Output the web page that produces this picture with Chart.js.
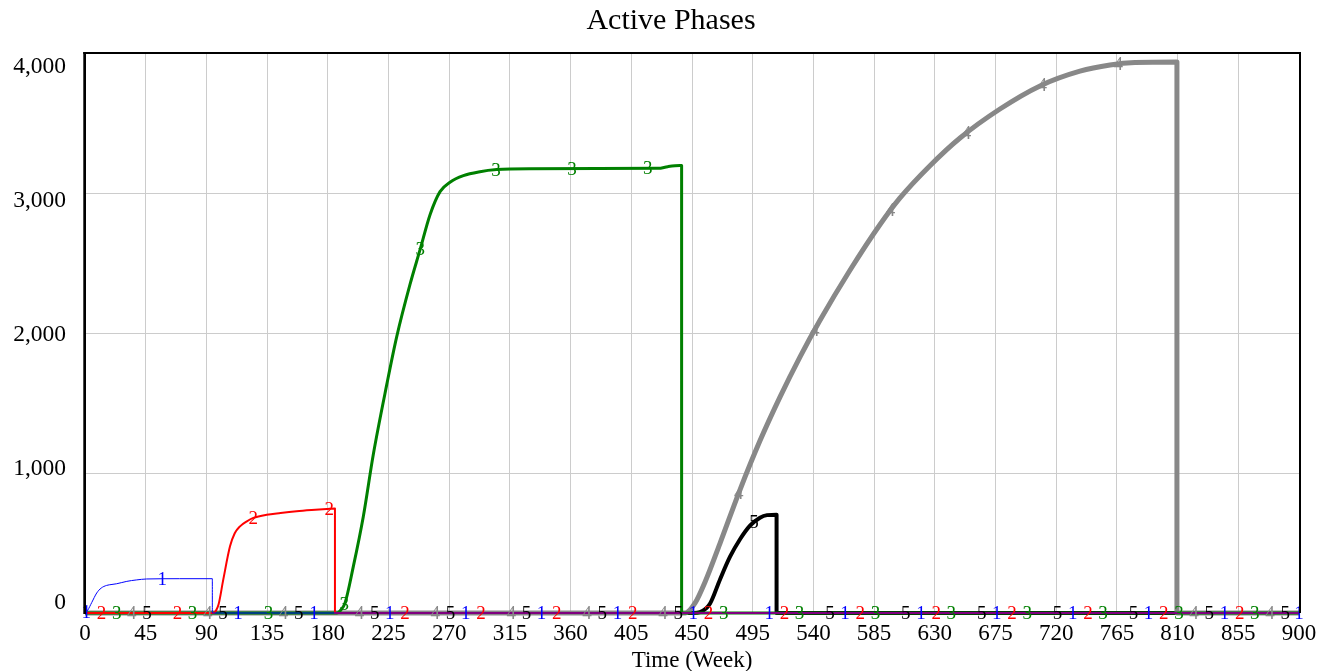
<!DOCTYPE html>
<html><head><meta charset="utf-8">
<script src="https://cdn.jsdelivr.net/npm/chart.js@4/dist/chart.umd.min.js"></script>
<style>html,body{margin:0;padding:0;background:#fff;overflow:hidden}canvas{display:block}</style>
</head><body>
<canvas id="c" width="1319" height="671"></canvas>
<script>
const chartTitle = "Active Phases";
const xAxisTitle = "Time (Week)";
const yTickValues = [0, 1000, 2000, 3000, 4000];
const yTickLabels = ["0", "1,000", "2,000", "3,000", "4,000"];
const seriesNames = ["1", "2", "3", "4", "5"];
const seriesColors = ["#0000ff", "#ff0000", "#008000", "#888888", "#000000"];
const seriesWidths = [1, 2, 3, 5, 4];

const weeks1  = [0, 2, 5, 8.7, 12, 16, 20, 23.5, 31, 38, 45.7, 70, 94.4, 94.4, 900];
const values1 = [0, 20, 75, 143, 178, 197, 204, 209, 226, 236, 243, 245, 245, 0, 0];

const weeks2  = [0, 95, 97, 99, 102.5, 107.5, 111, 114.9, 120, 124.8, 134.7, 145, 156.9, 168, 179.2, 185.3, 185.3, 900];
const values2 = [0, 0, 15, 60, 238, 476, 570, 619, 655, 679, 702, 714, 726, 735, 743, 747, 0, 0];

const weeks3  = [0, 186.8, 189.5, 192.7, 198.9, 206.3, 213.7, 223.7, 231.1, 240.9, 248.4, 255.8, 263.2, 270.6, 280.5, 292.8, 305.2, 330, 380, 425, 432, 441, 442.3, 442.3, 900];
const values3 = [0, 0, 20, 69, 331, 688, 1131, 1631, 1974, 2345, 2595, 2845, 3010, 3077, 3124, 3152, 3167, 3174, 3175, 3176, 3188, 3196, 3196, 0, 0];

const weeks4  = [0, 445, 452.2, 459.6, 470.7, 485.5, 500.3, 515.2, 530, 544.8, 567.1, 589.4, 604.2, 626.4, 648.7, 678.3, 708, 737.6, 759.9, 778.4, 809.5, 809.5, 900];
const values4 = [0, 0, 70, 220, 496, 878, 1228, 1542, 1828, 2089, 2448, 2775, 2965, 3195, 3393, 3600, 3765, 3870, 3914, 3932, 3936, 0, 0];

const weeks5  = [0, 451, 455.9, 463.3, 470.7, 478.2, 485.6, 493, 500.4, 505.6, 512.7, 512.7, 900];
const values5 = [0, 0, 6, 66, 238, 402, 527, 624, 681, 699, 702, 0, 0];

const seriesWeeks = [weeks1, weeks2, weeks3, weeks4, weeks5];
const seriesValues = [values1, values2, values3, values4, values5];

const markerStart = 1, markerShift = 11.25, markerSpacing = 56.25;
const FONT = '"Liberation Serif", "Times New Roman", serif';

function valueAt(data, t) {
  for (let i = 0; i < data.length - 1; i++) {
    const a = data[i], b = data[i + 1];
    if (b.x > a.x && t >= a.x && t <= b.x) return a.y + (b.y - a.y) * (t - a.x) / (b.x - a.x);
  }
  return data[data.length - 1].y;
}

const decor = {
  id: 'decor',
  afterDatasetsDraw(chart) {
    const { ctx, chartArea: a, scales: { x, y } } = chart;
    ctx.save();
    ctx.font = '19px ' + FONT;
    ctx.textAlign = 'center';
    ctx.textBaseline = 'middle';
    chart.data.datasets.forEach((ds, i) => {
      ctx.fillStyle = ds.borderColor;
      for (let n = 0; ; n++) {
        let t = markerStart + i * markerShift + n * markerSpacing;
        if (t > x.max + 2) break;
        t = Math.min(t, x.max);
        const v = valueAt(ds.data, t);
        ctx.fillText(seriesNames[i], x.getPixelForValue(t), y.getPixelForValue(v) + 1);
      }
    });
    // frame
    ctx.fillStyle = '#000';
    ctx.fillRect(a.left - 1.7, a.top - 1, 2.7, a.bottom - a.top + 2);
    ctx.fillRect(a.left - 1.7, a.top - 1, a.right - a.left + 3.7, 2);
    ctx.fillRect(a.right, a.top - 1, 2, a.bottom - a.top + 1);
    ctx.restore();
  },
  afterDraw(chart) {
    const { ctx, chartArea: a, scales: { y } } = chart;
    ctx.save();
    ctx.fillStyle = '#000';
    ctx.font = '30px ' + FONT;
    ctx.textAlign = 'center';
    ctx.textBaseline = 'middle';
    ctx.fillText(chartTitle, 671, 21);
    ctx.font = '23.5px ' + FONT;
    ctx.textAlign = 'right';
    const topPos = a.top + 13.4, botPos = a.bottom - 10;
    yTickValues.forEach((v, i) => {
      const f = (v - y.min) / (y.max - y.min);
      ctx.fillText(yTickLabels[i], 66, botPos - f * (botPos - topPos));
    });
    ctx.restore();
  }
};

const datasets = seriesWeeks.map((w, i) => ({
  label: seriesNames[i],
  data: w.map((t, j) => ({ x: t, y: seriesValues[i][j] })),
  borderColor: seriesColors[i],
  backgroundColor: seriesColors[i],
  borderWidth: seriesWidths[i],
  pointRadius: 0,
  cubicInterpolationMode: 'monotone',
  fill: false,
  clip: false,
  borderJoinStyle: 'round'
}));

new Chart(document.getElementById('c'), {
  type: 'line',
  data: { datasets },
  options: {
    responsive: false,
    animation: false,
    events: [],
    layout: { padding: { top: 53, left: 85, right: 20, bottom: 0 } },
    plugins: { legend: { display: false }, tooltip: { enabled: false }, title: { display: false } },
    scales: {
      x: {
        type: 'linear', min: 0, max: 900,
        ticks: { stepSize: 45, autoSkip: false, maxRotation: 0, color: '#000', padding: 7, font: { family: FONT, size: 23, lineHeight: 1.2 } },
        grid: { color: '#cccccc', lineWidth: 1, drawTicks: false },
        border: { display: false },
        title: { display: true, text: xAxisTitle, color: '#000', padding: { top: 0, bottom: 0 }, font: { family: FONT, size: 23, lineHeight: 0.85 } },
        afterFit(s) { s.height = 58; s.paddingLeft = 0; s.paddingRight = 0; }
      },
      y: {
        min: 0, max: 4000,
        ticks: { stepSize: 1000, display: false },
        grid: { color: '#cccccc', lineWidth: 1, drawTicks: false },
        border: { display: false },
        afterFit(s) { s.width = 0; s.paddingTop = 0; s.paddingBottom = 0; }
      }
    }
  },
  plugins: [decor]
});
</script>
</body></html>
